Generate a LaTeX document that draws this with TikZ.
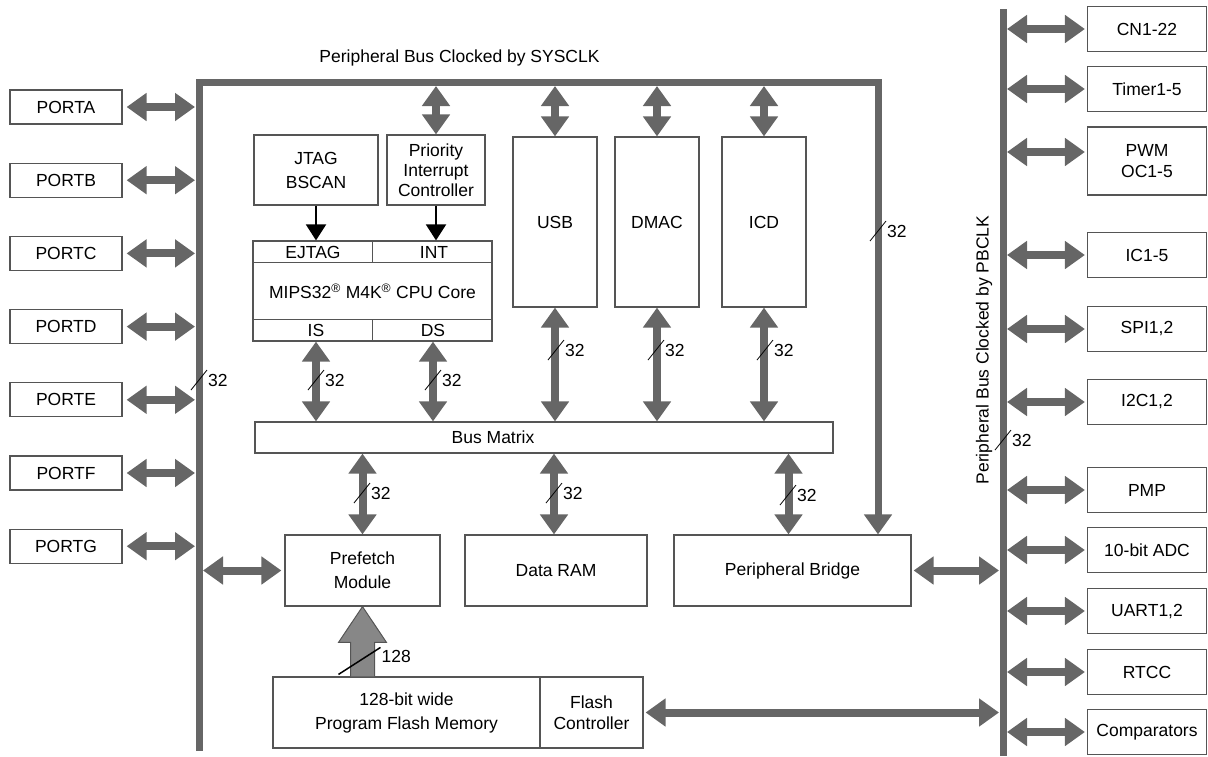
\documentclass[tikz,border=0pt]{standalone}
\usepackage{fontspec}
\setmainfont{Liberation Sans}
\usetikzlibrary{arrows.meta,calc}

\definecolor{busgray}{RGB}{102,102,102}
\definecolor{boxline}{RGB}{85,85,85}
\definecolor{widegray}{RGB}{135,135,135}

\tikzset{
  box/.style={draw=boxline, line width=1.2pt, fill=white, align=center, inner sep=0pt,
    font=\fontsize{17.5}{24}\selectfont},
  lbl/.style={inner sep=0pt, align=center, font=\fontsize{17.5}{21}\selectfont},
  bus/.style={draw=busgray, line width=7pt},
  dbl/.style={draw=busgray, line width=8pt,
    {Triangle[width=27pt,length=20pt]}-{Triangle[width=27pt,length=20pt]}},
  blk/.style={draw=black, line width=2pt, -{Triangle[width=20pt,length=16pt]}},
  widearrow/.style={draw=boxline, fill=widegray, line width=1pt},
}

% バス幅の記号
\newcommand{\bitwidth}[4]{%
  \draw[black, line width=0.8pt] (#2-8,#3+10) -- (#2+8,#3-10);
  \node[lbl, anchor=west] (#1) at (#2+9,#3) {#4};}

\begin{document}
\begin{tikzpicture}[x=1pt, y=-1pt]
    \useasboundingbox (0,0) rectangle (1208,756);

    % バスの座標
    \coordinate (sysB) at (199,751);
    \coordinate (sysTL) at (199,82);
    \coordinate (sysTR) at (878,82);
    \coordinate (pbT) at (1003,9);
    \coordinate (pbB) at (1003,756);

    % ブロック
    \node[box, minimum width=124, minimum height=70] (jtag) at (316,170) {JTAG\\BSCAN};
    \node[box, minimum width=98, minimum height=70, font=\fontsize{17.5}{20}\selectfont]
      (pic) at (436,170) {Priority\\Interrupt\\Controller};
    \node[box, minimum width=239, minimum height=100] (cpu) at (372.5,291)
      {MIPS32\textsuperscript{\textregistered} M4K\textsuperscript{\textregistered} CPU Core};
    \draw[boxline, line width=1.2pt] ($(cpu.north west)+(0,22)$) -- ($(cpu.north east)+(0,22)$);
    \draw[boxline, line width=1.2pt] ($(cpu.south west)+(0,-22)$) -- ($(cpu.south east)+(0,-22)$);
    \draw[boxline, line width=1.2pt] (cpu.north) -- ++(0,22);
    \draw[boxline, line width=1.2pt] (cpu.south) -- ++(0,-22);
    \node[lbl] (ejtag) at (313,252) {EJTAG};
    \node[lbl] (int) at (434,252) {INT};
    \node[lbl] (is) at (316,330) {IS};
    \node[lbl] (ds) at (433,330) {DS};

    \node[box, minimum width=84, minimum height=170] (usb) at (555,222) {USB};
    \node[box, minimum width=84, minimum height=170] (dmac) at (657,222) {DMAC};
    \node[box, minimum width=84, minimum height=170] (icd) at (764,222) {ICD};

    \node[box, minimum width=578, minimum height=31] (bm) at (544,437.5) {};
    \node[lbl] (bmtxt) at (493,437.5) {Bus Matrix};

    \node[box, minimum width=155, minimum height=71] (pref) at (362.5,570.5) {Prefetch\\Module};
    \node[box, minimum width=182, minimum height=71] (dram) at (556,570.5) {Data RAM};
    \node[box, minimum width=237, minimum height=71] (bridge) at (792.5,570.5) {Peripheral Bridge};

    \node[box, minimum width=267, minimum height=71] (pfm) at (406.5,712.5)
      {128-bit wide\\Program Flash Memory};
    \node[box, minimum width=103, minimum height=71, font=\fontsize{17.5}{21}\selectfont]
      (fctl) at (591.5,712.5) {Flash\\Controller};

    % システムバス
    \node[lbl] (syslabel) at (459.5,58) {Peripheral Bus Clocked by SYSCLK};
    \draw[bus, -{Triangle[width=27pt,length=20pt]}] (sysB) -- (sysTL) -- (sysTR) -- (sysTR |- bridge.north);

    % 周辺バス
    \node[lbl, rotate=90] (pblabel) at (984,350) {Peripheral Bus Clocked by PBCLK};
    \draw[bus] (pbT) -- (pbB);

    % ポート
    \foreach \p [count=\i from 0] in {A,B,C,D,E,F,G} {
      \node[box, minimum width=112, minimum height=34] (port\p) at (66,107+73.2*\i) {PORT\p};
      \draw[dbl, shorten <=4pt, shorten >=4pt] (port\p.east) -- (port\p.east -| sysB);
    }

    % 周辺モジュール
    \foreach \n/\t/\y/\h/\s in {cn/CN1-22/29/45/0, tmr/Timer1-5/89/45/0,
        pwm/{PWM\\OC1-5}/161/68/9, ic/IC1-5/255/45/0, spi/{SPI1,2}/329/45/0,
        i2c/{I2C1,2}/402/45/0, pmp/PMP/490/45/0, adc/10-bit ADC/550/45/0,
        uart/{UART1,2}/611/45/0, rtcc/RTCC/672/45/0, cmp/Comparators/732/45/0} {
      \node[box, minimum width=119, minimum height=\h, font=\fontsize{17.5}{21}\selectfont]
        (\n) at (1147,\y) {\t};
      \draw[dbl, shorten <=4pt, shorten >=2pt] ($(\n.west -| pbT)+(0,-\s)$) -- ($(\n.west)+(0,-\s)$);
    }

    % 接続
    \draw[blk] (jtag.south) -- (jtag.south |- cpu.north);
    \draw[blk] (pic.south) -- (pic.south |- cpu.north);
    \draw[dbl, shorten <=4pt] (pic.north |- sysTL) -- (pic.north);
    \foreach \b in {usb,dmac,icd} {
      \draw[dbl, shorten <=4pt] (\b.north |- sysTL) -- (\b.north);
      \draw[dbl] (\b.south) -- (\b.south |- bm.north);
    }
    \draw[dbl] (is.south |- cpu.south) -- (is.south |- bm.north);
    \draw[dbl] (ds.south |- cpu.south) -- (ds.south |- bm.north);
    \draw[dbl] (bm.south -| pref.north) -- (pref.north);
    \draw[dbl] ($(bm.south -| dram.north)+(-2,0)$) -- ($(dram.north)+(-2,0)$);
    \draw[dbl] ($(bm.south -| bridge.north)+(-4,0)$) -- ($(bridge.north)+(-4,0)$);
    \draw[dbl, shorten <=4pt, shorten >=3pt] (pref.west -| sysB) -- (pref.west);
    \draw[dbl, shorten <=2pt, shorten >=4pt] (bridge.east) -- (bridge.east -| pbT);
    \draw[dbl, shorten <=2pt, shorten >=4pt] (fctl.east) -- (fctl.east -| pbT);

    % 128ビットの矢印
    \coordinate (wa) at (pref.south |- pfm.north);
    \draw[widearrow] ($(wa)+(-12,0)$) -- ++(0,-34) -- ++(-12,0) -- (pref.south)
      -- ($(wa)+(24,-34)$) -- ++(-12,0) -- ($(wa)+(12,0)$);
    \draw[black, line width=1.5pt] ($(wa)+(-24,-2)$) -- ($(wa)+(18,-29)$);
    \node[lbl, anchor=west] (w128) at ($(wa)+(19,-20)$) {128};

    % バス幅
    \bitwidth{wl}{199}{380}{32}
    \bitwidth{wr}{878}{231}{32}
    \bitwidth{wp}{1003}{440}{32}
    \bitwidth{wis}{316}{380}{32}
    \bitwidth{wds}{433}{380}{32}
    \bitwidth{wusb}{556}{350}{32}
    \bitwidth{wdmac}{656}{350}{32}
    \bitwidth{wicd}{765}{350}{32}
    \bitwidth{wpref}{362}{493}{32}
    \bitwidth{wdram}{554}{493}{32}
    \bitwidth{wbr}{788}{495}{32}
\end{tikzpicture}
\end{document}
